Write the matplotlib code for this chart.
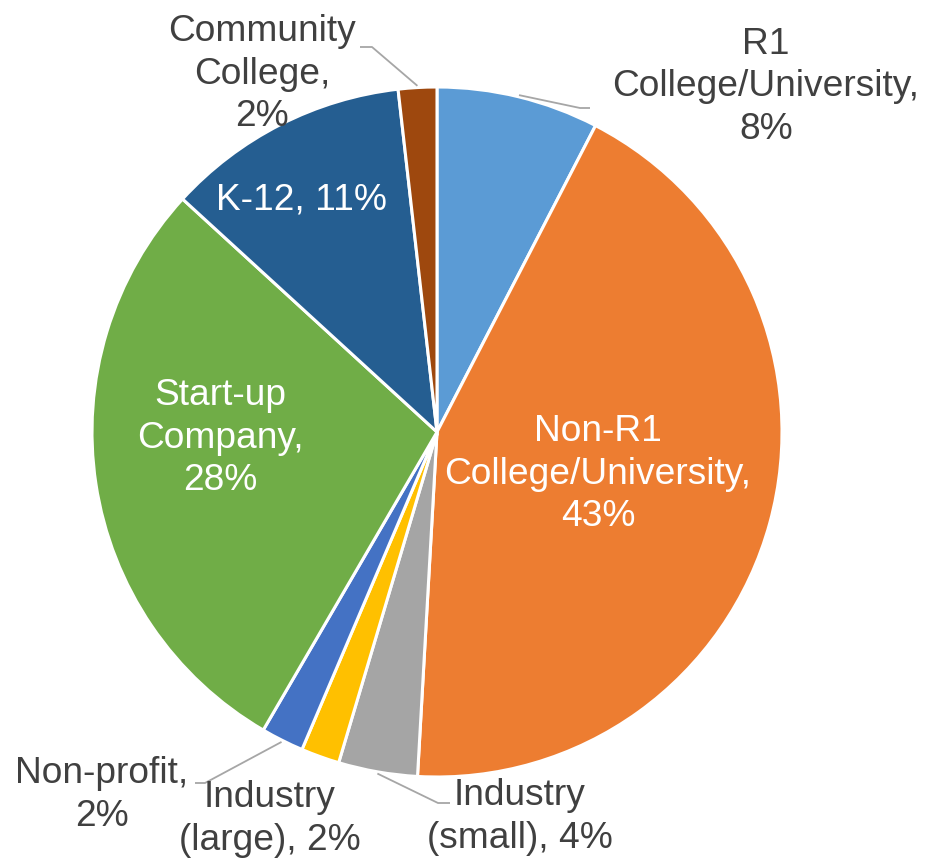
import numpy as np
import matplotlib
matplotlib.use("Agg")
import matplotlib.pyplot as plt

plt.rcParams['font.family'] = ['Liberation Sans', 'DejaVu Sans']

categories = ["R1 College/University", "Non-R1 College/University", "Industry (small)",
              "Industry (large)", "Non-profit", "Start-up Company", "K-12", "Community College"]
values = [7.6, 43.3, 3.7, 1.8, 2.0, 28.4, 11.4, 1.8]
labels = ["R1\nCollege/University,\n8%", "Non-R1\nCollege/University,\n43%",
          "Industry\n(small), 4%", "Industry\n(large), 2%", "Non-profit,\n2%",
          "Start-up\nCompany,\n28%", "K-12, 11%", "Community\nCollege,\n2%"]
colors = ["#5B9BD5", "#ED7D31", "#A5A5A5", "#FFC000", "#4472C4", "#70AD47", "#255E91", "#9E480E"]

W, H = 927, 859
fig = plt.figure(figsize=(W / 100, H / 100), dpi=100)
ax = fig.add_axes([0, 0, 1, 1])

cx, cy, R = 437, H - 432, 345
wedges, _ = ax.pie(values, colors=colors, startangle=90, counterclock=False,
                   center=(cx, cy), radius=R, frame=True,
                   wedgeprops=dict(edgecolor='white', linewidth=2.2))
ax.set_xlim(0, W)
ax.set_ylim(0, H)
ax.set_aspect('equal')
ax.axis('off')

# label layout: (x_px, y_px, color, leader elbow, leader end, anchor radius factor)
layout = [
    (766, 87, '#404040', (580, 108), (590, 108), 1.005),
    (598, 474, 'white', None, None, None),
    (520, 817, '#404040', (438, 803), (450, 803), 1.005),
    (270, 819, '#404040', None, None, None),
    (102, 795, '#404040', (205, 783), (195, 783), 1.005),
    (220, 438, 'white', None, None, None),
    (302, 200, 'white', None, None, None),
    (262, 74, '#404040', (372, 47), (360, 47), 1.005),
]

cum = np.cumsum([0] + values)
total = cum[-1]
for i, (lab, (x, y, col, elbow, end, rf)) in enumerate(zip(labels, layout)):
    ax.text(x, H - y, lab, ha='center', va='center', color=col, fontsize=26.7,
            linespacing=1.27)
    if elbow is not None:
        mid = (cum[i] + cum[i + 1]) / 2 / total
        ang = np.deg2rad(90 - 360 * mid)
        ax_, ay_ = cx + R * rf * np.cos(ang), cy + R * rf * np.sin(ang)
        ax.plot([ax_, elbow[0], end[0]], [ay_, H - elbow[1], H - end[1]],
                color='#A6A6A6', lw=1.3, solid_capstyle='butt')

fig.savefig("out.png", dpi=100)
